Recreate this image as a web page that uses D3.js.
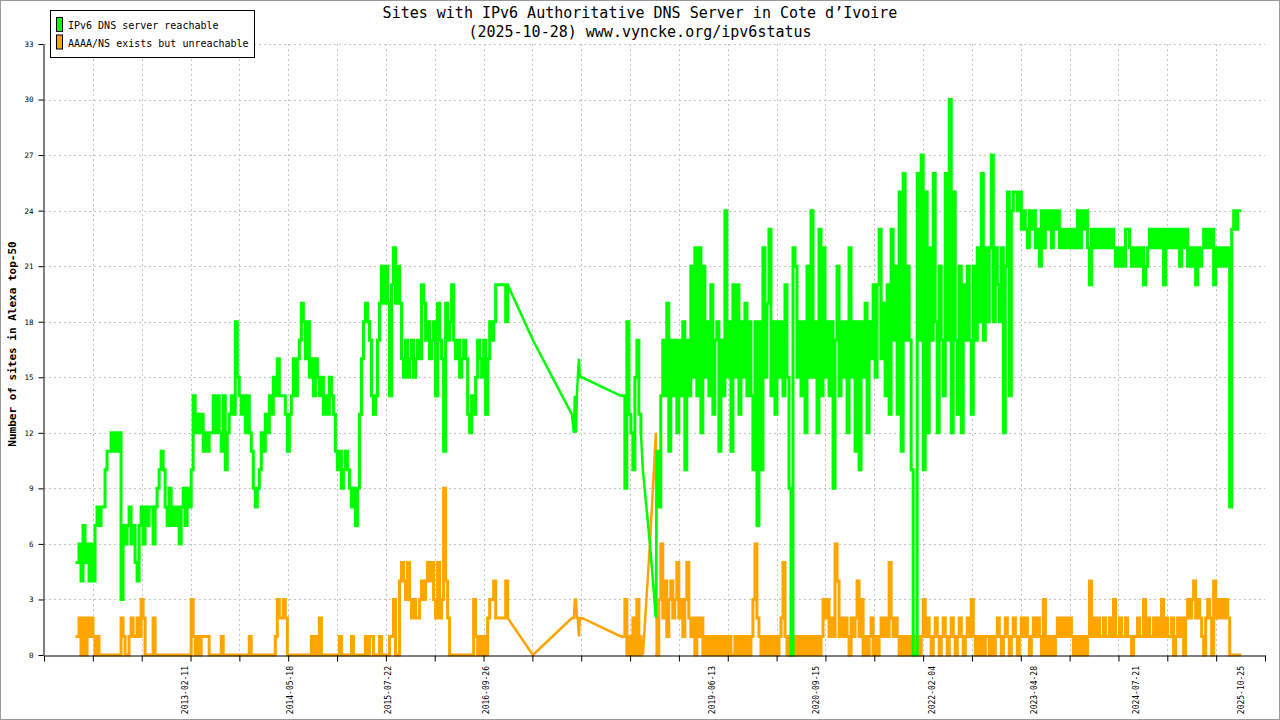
<!DOCTYPE html>
<html><head><meta charset="utf-8">
<script src="https://cdn.jsdelivr.net/npm/d3@7"></script>
<style>body{margin:0;background:#fff}svg{display:block}</style>
</head><body>
<svg id="chart" width="1280" height="720"></svg>
<script>
// ---------------- DATA ----------------
const titleLine1 = "Sites with IPv6 Authoritative DNS Server in Cote d\u2019Ivoire";
const titleLine2 = "(2025-10-28) www.vyncke.org/ipv6status";
const yTitle = "Number of sites in Alexa top-50";
const seriesNames = ["IPv6 DNS server reachable", "AAAA/NS exists but unreachable"];
const xStart = "2011-06-02", xEnd = "2026-02-07";
const xTickLabels = ["2013-02-11","2014-05-18","2015-07-22","2016-09-26","2019-06-13","2020-09-15","2022-02-04","2023-04-28","2024-07-21","2025-10-25"];
const yTicks = [0,3,6,9,12,15,18,21,24,27,30,33];
const stepDays = 8.8; // sampling interval of the readings

// 2011-10 .. 2016-12 (regular readings)
const seg2012Start = "2011-10-25";
const green2012 = [5,6,4,7,5,6,4,6,4,7,
8,7,8,8,10,11,11,12,11,12,
11,12,3,7,6,7,8,6,7,5,
4,7,8,6,8,7,8,8,6,8,
9,10,11,10,8,7,9,7,8,7,
8,6,8,9,7,9,8,10,14,12,
13,12,13,11,12,11,12,12,14,12,
14,12,11,14,10,12,13,14,13,18,
15,14,13,14,12,14,12,11,9,8,
9,10,12,11,13,12,14,13,15,14,
16,14,14,14,13,11,13,14,16,14,
16,17,19,18,16,18,15,16,14,16,
15,14,15,13,14,13,15,14,13,11,
10,11,9,10,11,10,9,8,9,7,
9,13,16,18,19,18,17,14,13,14,
17,19,21,19,21,19,14,20,22,19,
21,19,16,15,17,15,16,17,15,16,
17,16,20,19,17,18,16,17,18,14,
19,17,16,11,19,17,18,20,17,16,
17,15,16,17,16,13,12,14,13,15,
17,16,15,17,13,16,18,17,18,20,
20,20,20,20,18,20];
const orange2012 = [1,2,0,2,0,2,1,2,1,0,
1,0,0,0,0,0,0,0,0,0,
0,0,2,1,0,0,1,2,1,1,
2,1,3,2,0,0,0,0,2,0,
0,0,0,0,0,0,0,0,0,0,
0,0,0,0,0,0,0,3,1,0,
1,0,1,1,1,1,0,0,0,0,
0,0,1,0,0,0,0,0,0,0,
0,0,0,0,0,0,1,0,0,0,
0,0,0,0,0,0,0,0,0,1,
3,2,2,3,2,0,0,0,0,0,
0,0,0,0,0,0,0,1,0,1,
0,2,0,0,0,0,0,0,0,0,
0,1,0,0,0,0,0,1,0,0,
0,0,0,0,1,0,1,1,0,0,
0,1,0,0,0,0,1,1,3,0,
0,4,5,4,3,5,3,2,3,2,
2,3,4,3,4,5,4,5,3,2,
5,2,3,9,4,2,0,0,0,0,
0,0,0,0,0,0,0,0,3,1,
0,1,0,1,0,2,3,3,4,2,
2,2,2,2,4,2];

// sparse readings 2017 - 2018
const gap2017Dates = ["2017-04-19","2017-10-07","2017-10-16","2017-10-20","2017-10-25","2017-10-29","2017-11-02","2017-11-07","2017-11-11","2017-11-20","2018-05-10"];
const green2017 = [17,13,12,14,12,14,15,16,15,15,14];
const orange2017 = [0,2,2,3,3,2,2,1,2,2,1];

const seg2018Start = "2018-05-19";
const green2018 = [14,9,18,13,12,10,15,17,13,12];
const orange2018 = [1,3,0,1,0,2,0,3,0,1];

const gap2018Dates = ["2018-08-15","2018-09-15","2018-10-11"];
const green2018b = [10,6,2];
const orange2018b = [0,6,12];

// 2018-10 .. 2025-10 (regular readings)
const segLateStart = "2018-10-15";
const greenLate = [11,8,14,17,14,19,11,17,14,17,
12,17,14,18,10,17,14,21,15,22,
14,22,12,21,15,18,14,20,13,17,
18,11,17,14,24,15,18,11,20,15,
20,13,18,15,19,14,18,14,10,18,
7,18,10,22,15,19,23,14,18,13,
18,15,18,14,20,15,9,0,22,21,
15,18,14,18,12,21,15,24,15,18,
12,23,14,22,15,18,14,18,9,17,
21,14,18,15,18,12,22,15,18,11,
18,10,18,15,19,12,18,16,20,15,
20,23,16,19,14,20,13,23,17,21,
13,25,11,26,17,21,17,10,0,0,
26,17,27,10,25,12,22,17,26,18,
12,21,17,14,26,17,30,12,25,17,
13,21,12,20,17,21,17,13,21,17,
22,18,26,17,22,18,22,27,18,22,
20,18,22,12,21,25,14,24,25,25,
24,25,23,24,23,22,24,23,24,22,
23,21,24,22,24,23,24,22,24,23,
24,22,23,22,23,22,23,22,23,22,
24,22,24,23,24,22,20,23,22,23,
22,23,22,23,22,23,22,23,22,21,
22,21,22,21,23,23,22,21,22,21,
22,21,22,20,21,22,23,22,23,22,
23,22,23,20,23,22,23,22,23,22,
23,21,23,22,23,21,22,21,22,20,
22,21,22,23,22,23,22,23,20,22,
21,22,21,22,21,22,8,23,24,23,
24,24];
const orangeLate = [0,3,6,2,4,1,3,4,2,3,
5,2,3,1,3,5,2,1,2,0,
2,1,2,0,1,0,1,0,1,0,
1,0,1,0,1,0,1,0,0,1,
0,1,0,1,0,1,0,1,3,6,
2,1,0,1,0,1,0,1,0,1,
0,1,2,5,1,0,1,0,1,0,
1,0,1,0,1,0,1,0,1,0,
1,0,1,3,2,3,1,2,1,6,
4,1,2,1,2,1,0,2,1,2,
4,1,3,0,1,0,1,2,0,1,
0,1,2,1,2,1,5,2,1,2,
1,0,1,0,1,0,1,0,1,0,
1,0,1,3,1,2,1,0,1,2,
1,0,1,2,1,0,1,2,1,0,
1,2,1,0,1,2,1,3,1,0,
1,0,1,0,1,1,0,1,0,1,
2,1,0,1,2,1,0,1,2,1,
0,1,2,1,2,1,0,1,2,1,
2,1,0,3,0,1,0,1,0,1,
2,1,2,1,2,1,2,1,0,1,
0,1,0,1,0,1,4,1,2,1,
2,1,1,2,1,1,2,1,3,1,
1,2,1,1,2,1,1,0,1,1,
2,1,1,3,1,2,1,1,2,1,
2,1,3,1,2,1,1,2,0,1,
2,1,2,0,2,3,2,3,4,2,
3,2,1,0,2,3,2,0,4,2,
3,2,3,2,3,2,0,0,0,0,
0,0];

const colors = { green: "#00ff00", orange: "#ffa500" };

// ---------------- BUILD ----------------
const parse = d3.utcParse("%Y-%m-%d");
const DAY = 86400000;
function seg(start, values) {
  const t0 = parse(start).getTime();
  return values.map((v, i) => ({ date: new Date(t0 + i * stepDays * DAY), value: v }));
}
function pts(dates, values) { return dates.map((d, i) => ({ date: parse(d), value: values[i] })); }

function buildSeries(a, gapA, b, gapB, c) {
  const A = seg(seg2012Start, a), B = seg(seg2018Start, b), C = seg(segLateStart, c);
  const G1 = pts(gap2017Dates, gapA), G2 = pts(gap2018Dates, gapB);
  return {
    dense: [A, B, C],
    sparse: [[A[A.length - 1], ...G1, B[0]], [B[B.length - 1], ...G2, C[0]]]
  };
}
const greenSeries = buildSeries(green2012, green2017, green2018, green2018b, greenLate);
const orangeSeries = buildSeries(orange2012, orange2017, orange2018, orange2018b, orangeLate);

const svg = d3.select("#chart");
const M = { left: 44, right: 1265, top: 44, bottom: 655 };
const d0 = parse(xStart), d1 = parse(xEnd);
const x = d3.scaleUtc().domain([d0, d1]).range([M.left, M.right]);
const y = d3.scaleLinear().domain([0, 33]).range([M.bottom, M.top]);
const xTickDates = d3.range(26).map(i => new Date(d0.getTime() + i * (d1 - d0) / 25));

svg.append("rect").attr("x", 0).attr("y", 0).attr("width", 1280).attr("height", 720).attr("fill", "#fff");

// grid
const grid = svg.append("g").attr("stroke", "#c4c4c4").attr("stroke-dasharray", "2,3").attr("stroke-width", 1);
grid.selectAll("line.h").data(yTicks.filter(t => t > 0)).join("line")
  .attr("x1", M.left).attr("x2", M.right)
  .attr("y1", d => Math.round(y(d)) + 0.5).attr("y2", d => Math.round(y(d)) + 0.5);
grid.selectAll("line.v").data(xTickDates.slice(1, -1)).join("line")
  .attr("y1", M.top).attr("y2", M.bottom)
  .attr("x1", d => Math.round(x(d)) + 0.5).attr("x2", d => Math.round(x(d)) + 0.5);

// lines: regular readings drawn as held steps, sparse gaps as straight segments
const stepLine = d3.line().x(d => x(d.date)).y(d => y(d.value)).curve(d3.curveStepAfter);
const straightLine = d3.line().x(d => x(d.date)).y(d => y(d.value));
function drawSeries(s, color) {
  const g = svg.append("g").attr("fill", "none").attr("stroke", color).attr("stroke-width", 3)
    .attr("stroke-linejoin", "miter").attr("stroke-linecap", "square");
  s.sparse.forEach(p => g.append("path").attr("d", straightLine(p)).attr("stroke-width", 2.5).attr("stroke-linecap", "butt"));
  s.dense.forEach(p => g.append("path").attr("d", stepLine(p)));
}
drawSeries(orangeSeries, colors.orange);
drawSeries(greenSeries, colors.green);

// axes
const yAxis = svg.append("g").attr("transform", "translate(43.5,0)")
  .call(d3.axisLeft(y).tickValues(yTicks).tickSize(5).tickSizeOuter(0).tickPadding(5));
yAxis.selectAll("text").attr("font-family", "DejaVu Sans Mono").attr("font-size", 7.5).attr("fill", "#000");
yAxis.selectAll("line,path").attr("stroke", "#000");

const xAxis = svg.append("g").attr("transform", "translate(0,655.5)")
  .call(d3.axisBottom(x).tickValues(xTickDates).tickSize(6).tickSizeOuter(0).tickFormat(""));
xAxis.selectAll("line,path").attr("stroke", "#000");

svg.append("g").selectAll("text").data(xTickLabels).join("text")
  .attr("transform", d => `translate(${x(parse(d)) + 3},666) rotate(-90)`)
  .attr("text-anchor", "end")
  .attr("font-family", "DejaVu Sans Mono").attr("font-size", 8).attr("fill", "#000")
  .text(d => d);

// titles
svg.append("text").attr("x", 640).attr("y", 18).attr("text-anchor", "middle")
  .attr("font-family", "DejaVu Sans Mono").attr("font-size", 15).attr("fill", "#000").text(titleLine1);
svg.append("text").attr("x", 640).attr("y", 37).attr("text-anchor", "middle")
  .attr("font-family", "DejaVu Sans Mono").attr("font-size", 15).attr("fill", "#000").text(titleLine2);
svg.append("text").attr("transform", "translate(16,344) rotate(-90)").attr("text-anchor", "middle")
  .attr("font-family", "DejaVu Sans Mono").attr("font-weight", "bold").attr("font-size", 11)
  .attr("fill", "#000").text(yTitle);

// legend
const lg = svg.append("g");
lg.append("rect").attr("x", 50.5).attr("y", 10.5).attr("width", 204).attr("height", 47)
  .attr("fill", "#fff").attr("stroke", "#000");
const legendItems = [{ name: seriesNames[0], color: colors.green }, { name: seriesNames[1], color: colors.orange }];
legendItems.forEach((it, i) => {
  lg.append("rect").attr("x", 56.5).attr("y", 17.5 + i * 17.5).attr("width", 6).attr("height", 14)
    .attr("fill", it.color).attr("stroke", "#000");
  lg.append("text").attr("x", 68).attr("y", 29 + i * 17.5)
    .attr("font-family", "DejaVu Sans Mono").attr("font-size", 10).attr("fill", "#000").text(it.name);
});

// outer frame
svg.append("rect").attr("x", 0.5).attr("y", 0.5).attr("width", 1279).attr("height", 719)
  .attr("fill", "none").attr("stroke", "#999");
</script>
</body></html>
